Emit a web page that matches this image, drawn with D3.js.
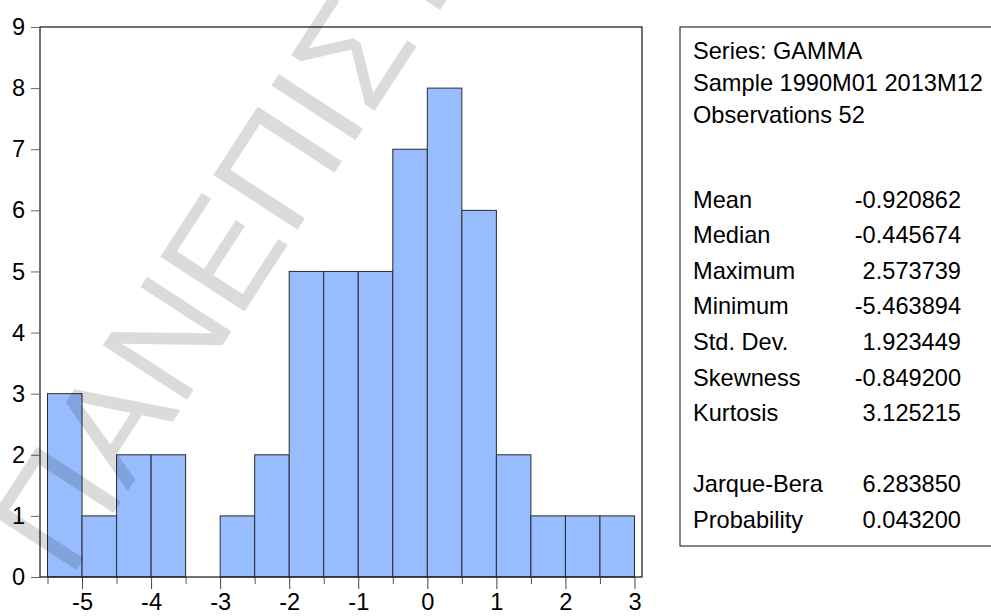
<!DOCTYPE html>
<html>
<head>
<meta charset="utf-8">
<script src="https://cdn.jsdelivr.net/npm/d3@7"></script>
<style>
  body { margin: 0; background: #fff; }
  svg { display: block; }
</style>
</head>
<body>
<figure id="hist" style="margin:0"></figure>
<script>
// histogram bins (lower edges), width 0.5
const binEdges = [-5.5, -5.0, -4.5, -4.0, -3.5, -3.0, -2.5, -2.0, -1.5, -1.0, -0.5, 0.0, 0.5, 1.0, 1.5, 2.0, 2.5, 3.0];
const counts = [3, 1, 2, 2, 0, 1, 2, 5, 5, 5, 7, 8, 6, 2, 1, 1, 1];

const yTicks = [0, 1, 2, 3, 4, 5, 6, 7, 8, 9];
const xTickLabels = [-5, -4, -3, -2, -1, 0, 1, 2, 3];

const headerLines = ["Series: GAMMA", "Sample 1990M01 2013M12", "Observations 52"];
const statLabels = ["Mean", "Median", "Maximum", "Minimum", "Std. Dev.", "Skewness", "Kurtosis", "", "Jarque-Bera", "Probability"];
const statValues = ["-0.920862", "-0.445674", "2.573739", "-5.463894", "1.923449", "-0.849200", "3.125215", "", "6.283850", "0.043200"];

const watermark = "ΠΑΝΕΠΙΣΤΗΜΙΟ";

const W = 991, H = 616;
const plot = { left: 40, top: 27, right: 642, bottom: 577 };
const font = "'Liberation Sans', Arial, sans-serif";
const fs = 23.6;

const svg = d3.select("figure#hist")
  .append("svg")
  .attr("width", W)
  .attr("height", H);

//axis
const x = d3.scaleLinear()
  .domain([-5.5 - 7.5 / 69, 3.0 + 7.5 / 69])
  .range([plot.left, plot.right]);
const y = d3.scaleLinear()
  .domain([0, 9])
  .range([plot.bottom, plot.top]);

const bins = counts.map((c, i) => ({ x0: binEdges[i], x1: binEdges[i + 1], count: c }));

// bars
svg.append("g")
  .selectAll("rect")
  .data(bins.filter(d => d.count > 0))
  .join("rect")
  .attr("x", d => x(d.x0))
  .attr("y", d => y(d.count))
  .attr("width", d => x(d.x1) - x(d.x0))
  .attr("height", d => y(0) - y(d.count))
  .style("fill", "#97bdff")
  .style("stroke", "#2b2b2b")
  .style("stroke-width", 1);

// frame
svg.append("rect")
  .attr("x", plot.left)
  .attr("y", plot.top)
  .attr("width", plot.right - plot.left)
  .attr("height", plot.bottom - plot.top)
  .style("fill", "none")
  .style("stroke", "#111")
  .style("stroke-width", 1.2);

// y axis ticks + labels
const yAxis = svg.append("g")
  .attr("transform", "translate(" + plot.left + ",0)")
  .call(d3.axisLeft(y).tickValues(yTicks).tickSize(9).tickPadding(6).tickFormat(d3.format("d")));
yAxis.select(".domain").remove();
yAxis.selectAll(".tick line").attr("stroke", "#666");
yAxis.selectAll(".tick text")
  .style("font-family", font)
  .style("font-size", fs + "px")
  .attr("fill", "#000");

// x axis: minor ticks at every bin edge, major ticks at integers
const xMinor = svg.append("g")
  .attr("transform", "translate(0," + plot.bottom + ")")
  .call(d3.axisBottom(x).tickValues(binEdges.filter(v => !Number.isInteger(v))).tickSize(7).tickFormat(""));
xMinor.select(".domain").remove();
xMinor.selectAll(".tick line").attr("stroke", "#555");

const xMajor = svg.append("g")
  .attr("transform", "translate(0," + plot.bottom + ")")
  .call(d3.axisBottom(x).tickValues(xTickLabels).tickSize(12).tickPadding(4).tickFormat(d3.format("d")));
xMajor.select(".domain").remove();
xMajor.selectAll(".tick line").attr("stroke", "#444");
xMajor.selectAll(".tick text")
  .style("font-family", font)
  .style("font-size", fs + "px")
  .attr("fill", "#000")
  .text(d => d < 0 ? "-" + Math.abs(d) : d);  // plain hyphen like the original

// stats box
svg.append("rect")
  .attr("x", 680)
  .attr("y", 27)
  .attr("width", 330)
  .attr("height", 519)
  .style("fill", "none")
  .style("stroke", "#333")
  .style("stroke-width", 1.2);

const box = svg.append("g")
  .style("font-family", font)
  .style("font-size", fs + "px")
  .attr("fill", "#000");

box.selectAll("text.hdr")
  .data(headerLines)
  .join("text")
  .attr("class", "hdr")
  .attr("x", 693)
  .attr("y", (d, i) => 59.3 + i * 31.7)
  .text(d => d);

box.selectAll("text.lbl")
  .data(statLabels)
  .join("text")
  .attr("class", "lbl")
  .attr("x", 693)
  .attr("y", (d, i) => 207.5 + i * 35.6)
  .text(d => d);

box.selectAll("text.val")
  .data(statValues)
  .join("text")
  .attr("class", "val")
  .attr("x", 961)
  .attr("y", (d, i) => 207.5 + i * 35.6)
  .attr("text-anchor", "end")
  .text(d => d);

// faint diagonal watermark on top (runs off the top edge, as in the original)
svg.append("text")
  .attr("transform", "translate(70,580) rotate(-57)")
  .style("font-family", font)
  .style("font-size", "146px")
  .style("fill", "#000")
  .style("fill-opacity", 0.14)
  .text(watermark);
</script>
</body>
</html>
